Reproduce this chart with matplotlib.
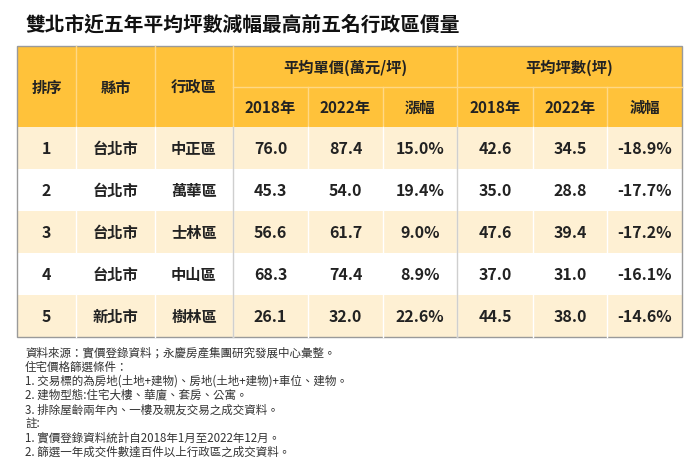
import matplotlib
matplotlib.use("Agg")
import matplotlib.pyplot as plt
from matplotlib.patches import Rectangle

plt.rcParams['font.family'] = ['Noto Sans CJK TC', 'DejaVu Sans']

title = "雙北市近五年平均坪數減幅最高前五名行政區價量"

rank = ["1", "2", "3", "4", "5"]
city = ["台北市", "台北市", "台北市", "台北市", "新北市"]
district = ["中正區", "萬華區", "士林區", "中山區", "樹林區"]
price_2018 = [76.0, 45.3, 56.6, 68.3, 26.1]
price_2022 = [87.4, 54.0, 61.7, 74.4, 32.0]
price_chg = [15.0, 19.4, 9.0, 8.9, 22.6]
size_2018 = [42.6, 35.0, 47.6, 37.0, 44.5]
size_2022 = [34.5, 28.8, 39.4, 31.0, 38.0]
size_chg = [-18.9, -17.7, -17.2, -16.1, -14.6]

head_left = ["排序", "縣市", "行政區"]
group_heads = ["平均單價(萬元/坪)", "平均坪數(坪)"]
sub_heads = ["2018年", "2022年", "漲幅", "2018年", "2022年", "減幅"]

notes = [
    "資料來源：實價登錄資料；永慶房產集團研究發展中心彙整。",
    "住宅價格篩選條件：",
    "1. 交易標的為房地(土地+建物)、房地(土地+建物)+車位、建物。",
    "2. 建物型態:住宅大樓、華廈、套房、公寓。",
    "3. 排除屋齡兩年內、一樓及親友交易之成交資料。",
    "註:",
    "1. 實價登錄資料統計自2018年1月至2022年12月。",
    "2. 篩選一年成交件數達百件以上行政區之成交資料。",
]

# layout in pixels
col_x = [17, 76, 155, 233, 308, 383, 457, 533, 607, 682]
head_y = [47, 88, 128]
row_h = 42
HEAD = "#FFC23A"
CREAM = "#FEF0D3"
TXT = "#222222"

fig = plt.figure(figsize=(7.0, 4.77), dpi=100)
ax = fig.add_axes([0, 0, 1, 1])
ax.set_xlim(0, 700)
ax.set_ylim(477, 0)
ax.axis("off")

ax.text(25, 25, title, fontsize=14.2, fontweight="bold", color="#111111",
        va="center", ha="left")

# header background
ax.add_patch(Rectangle((col_x[0], head_y[0]), col_x[-1] - col_x[0],
                       head_y[2] - head_y[0], facecolor=HEAD, edgecolor="none"))
hl = "#FFD885"
for x in col_x[1:-1]:
    y0 = head_y[0] if x in (col_x[1], col_x[2], col_x[3], col_x[6]) else head_y[1]
    ax.plot([x, x], [y0, head_y[2]], color=hl, lw=1)
ax.plot([col_x[3], col_x[-1]], [head_y[1], head_y[1]], color=hl, lw=1)

for i, s in enumerate(head_left):
    ax.text((col_x[i] + col_x[i + 1]) / 2, (head_y[0] + head_y[2]) / 2, s,
            fontsize=11, fontweight="bold", color=TXT, ha="center", va="center")
for g, s in enumerate(group_heads):
    a, b = col_x[3 + 3 * g], col_x[6 + 3 * g]
    ax.text((a + b) / 2, (head_y[0] + head_y[1]) / 2, s,
            fontsize=11, fontweight="bold", color=TXT, ha="center", va="center")
for j, s in enumerate(sub_heads):
    ax.text((col_x[3 + j] + col_x[4 + j]) / 2, (head_y[1] + head_y[2]) / 2, s,
            fontsize=11, fontweight="bold", color=TXT, ha="center", va="center")

# data rows
for r in range(len(rank)):
    y0 = head_y[2] + r * row_h
    fc = CREAM if r % 2 == 0 else "white"
    ax.add_patch(Rectangle((col_x[0], y0), col_x[-1] - col_x[0], row_h,
                           facecolor=fc, edgecolor="none"))
    vals = [rank[r], city[r], district[r],
            f"{price_2018[r]:.1f}", f"{price_2022[r]:.1f}", f"{price_chg[r]:.1f}%",
            f"{size_2018[r]:.1f}", f"{size_2022[r]:.1f}", f"{size_chg[r]:.1f}%"]
    for j, v in enumerate(vals):
        fs = 11 if j in (1, 2) else 11.5
        ax.text((col_x[j] + col_x[j + 1]) / 2, y0 + row_h / 2, v,
                fontsize=fs, fontweight="bold", color=TXT, ha="center", va="center")

table_bottom = head_y[2] + len(rank) * row_h
for x in col_x[1:-1]:
    ax.plot([x, x], [head_y[2], table_bottom], color="white", lw=1)
for x in (col_x[3], col_x[6]):
    ax.plot([x, x], [head_y[2], table_bottom], color="#CFCFCF", lw=1)

# outer border
ax.add_patch(Rectangle((col_x[0], head_y[0]), col_x[-1] - col_x[0],
                       table_bottom - head_y[0], facecolor="none",
                       edgecolor="#9A9A9A", lw=1))

for k, s in enumerate(notes):
    ax.text(25, 353 + k * 14.2, s, fontsize=8.3, color="#333333",
            ha="left", va="center")

fig.savefig("out.png", dpi=100)
